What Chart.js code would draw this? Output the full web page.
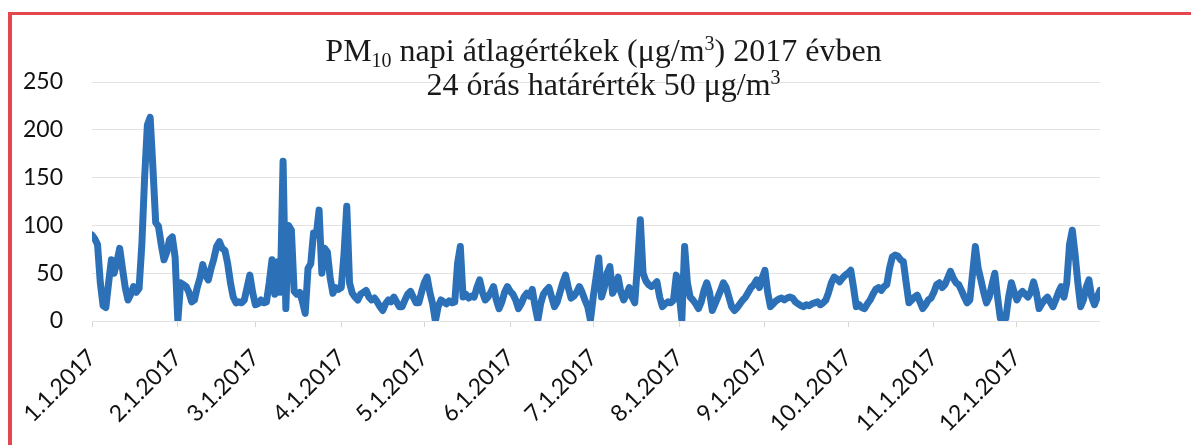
<!DOCTYPE html>
<html>
<head>
<meta charset="utf-8">
<script src="https://cdn.jsdelivr.net/npm/chart.js@4"></script>
<style>
  html, body { margin: 0; padding: 0; background: #fff; }
  #wrap { position: relative; width: 1191px; height: 445px; overflow: hidden; }
  #frame {
    position: absolute; left: 8px; top: 12px; right: -10px; bottom: -10px;
    border-left: 4px solid #e4474d; border-top: 3px solid #e4474d;
    pointer-events: none;
  }
</style>
</head>
<body>
<div id="wrap">
  <canvas id="pmChart" width="1191" height="445"></canvas>
  <div id="frame"></div>
</div>
<script>
// month tick labels and the day of year each month starts on
const monthLabels = ['1.1.2017', '2.1.2017', '3.1.2017', '4.1.2017', '5.1.2017', '6.1.2017',
                     '7.1.2017', '8.1.2017', '9.1.2017', '10.1.2017', '11.1.2017', '12.1.2017'];
const monthStarts = [0, 31, 59, 90, 120, 151, 181, 212, 243, 273, 304, 334];
const yTicks = [0, 50, 100, 150, 200, 250];

// daily PM10 averages (µg/m3)
const jan = [90, 86, 80, 40, 16, 14, 40, 64, 50, 62, 76, 55, 35, 22, 28, 36, 30, 34, 80, 150, 205, 213, 160, 103, 99, 80, 64, 72, 85, 88, 67];
const feb = [0, 40, 38, 36, 30, 20, 22, 35, 45, 59, 48, 43, 55, 65, 78, 83, 76, 74, 60, 40, 25, 19, 20, 19, 22, 35, 48, 30];
const mar = [17, 18, 22, 19, 20, 40, 64, 28, 62, 30, 167, 13, 100, 95, 31, 28, 30, 20, 8, 55, 60, 92, 90, 116, 50, 76, 72, 45, 29, 35, 33];
const apr = [35, 70, 120, 40, 29, 25, 22, 28, 30, 32, 25, 22, 24, 20, 15, 11, 18, 22, 20, 25, 20, 15, 15, 22, 28, 31, 25, 19, 19, 30];
const may = [40, 46, 30, 18, 0, 15, 22, 20, 18, 21, 19, 20, 60, 78, 25, 28, 24, 26, 25, 35, 43, 30, 22, 25, 30, 36, 22, 13, 20, 30, 36];
const jun = [31, 28, 22, 13, 18, 25, 29, 26, 33, 15, 1, 18, 28, 32, 35, 25, 15, 20, 30, 40, 48, 35, 24, 26, 30, 36, 30, 22, 15, 1];
const jul = [25, 45, 66, 25, 35, 50, 57, 29, 35, 46, 30, 22, 28, 35, 25, 19, 60, 106, 50, 42, 38, 36, 38, 41, 25, 15, 18, 20, 19, 22, 48];
const aug = [30, 1, 78, 40, 25, 22, 18, 13, 20, 32, 40, 30, 11, 18, 25, 32, 40, 35, 25, 15, 11, 14, 18, 22, 25, 30, 35, 38, 43, 35, 45];
const sep = [53, 30, 15, 18, 21, 23, 24, 22, 24, 25, 24, 20, 18, 16, 15, 17, 16, 18, 19, 20, 17, 19, 22, 30, 40, 46, 44, 41, 45, 48];
const oct = [50, 53, 35, 15, 17, 14, 13, 18, 22, 28, 33, 35, 32, 36, 38, 55, 67, 69, 68, 64, 62, 40, 19, 22, 25, 27, 20, 13, 17, 22, 24];
const nov = [30, 38, 40, 35, 38, 45, 52, 45, 40, 38, 32, 25, 19, 22, 50, 78, 55, 43, 30, 19, 25, 38, 50, 25, 3, 3, 3, 25, 40, 30];
const dec = [22, 28, 31, 28, 25, 30, 41, 30, 13, 18, 22, 25, 20, 15, 22, 30, 36, 25, 40, 80, 95, 70, 40, 15, 22, 35, 43, 25, 17, 25, 32];

// title pieces: [text, 'sub' | 'sup' | '']
const titleLine1 = [['PM', ''], ['10', 'sub'], [' napi átlagértékek (μg/m', ''], ['3', 'sup'], [') 2017 évben', '']];
const titleLine2 = [['24 órás határérték 50 μg/m', ''], ['3', 'sup']];

document.addEventListener('DOMContentLoaded', () => {
    const ctx = document.getElementById('pmChart').getContext('2d');

    const daily = [].concat(jan, feb, mar, apr, may, jun, jul, aug, sep, oct, nov, dec);
    const points = daily.map((v, i) => ({ x: i, y: v }));

    const titleFont = 'Liberation Serif';
    const titleSize = 32;

    function drawLine(c, parts, cx, baseline) {
        const small = Math.round(titleSize * 0.64);
        let total = 0;
        parts.forEach(([txt, kind]) => {
            c.font = (kind ? small : titleSize) + 'px "' + titleFont + '"';
            total += c.measureText(txt).width;
        });
        let x = cx - total / 2;
        parts.forEach(([txt, kind]) => {
            c.font = (kind ? small : titleSize) + 'px "' + titleFont + '"';
            let dy = 0;
            if (kind === 'sub') dy = titleSize * 0.2;
            if (kind === 'sup') dy = -titleSize * 0.34;
            c.fillText(txt, x, baseline + dy);
            x += c.measureText(txt).width;
        });
    }

    // title sits over the top of the plot, like the original
    const titlePlugin = {
        id: 'pmTitle',
        afterDraw(chart) {
            const c = chart.ctx;
            c.save();
            c.fillStyle = '#1a1a1a';
            c.textAlign = 'left';
            c.textBaseline = 'alphabetic';
            const cx = chart.width / 2 + 8;
            drawLine(c, titleLine1, cx, 61);
            drawLine(c, titleLine2, cx, 95);
            c.restore();
        }
    };

    new Chart(ctx, {
        type: 'line',
        data: {
            datasets: [{
                label: 'PM10',
                data: points,
                borderColor: '#2c71b8',
                borderWidth: 7,
                pointRadius: 0,
                tension: 0,
                borderJoinStyle: 'round',
                borderCapStyle: 'round',
                fill: false
            }]
        },
        options: {
            responsive: false,
            animation: false,
            layout: { padding: { top: 82, right: 91, left: 0, bottom: 0 } },
            plugins: {
                legend: { display: false },
                tooltip: { enabled: false },
                title: { display: false }
            },
            scales: {
                x: {
                    type: 'linear',
                    min: 0,
                    max: 364,
                    afterBuildTicks: axis => { axis.ticks = monthStarts.map(v => ({ value: v })); },
                    afterFit: scale => { scale.height = 124; },
                    ticks: {
                        autoSkip: false,
                        maxRotation: 45,
                        minRotation: 45,
                        padding: 17,
                        color: '#111',
                        font: { family: 'Lato', size: 23 },
                        callback: value => monthLabels[monthStarts.indexOf(value)]
                    },
                    grid: { drawOnChartArea: false, drawTicks: true, tickLength: 6, color: '#d6d6d6' },
                    border: { display: false }
                },
                y: {
                    min: 0,
                    max: 250,
                    afterBuildTicks: axis => { axis.ticks = yTicks.map(v => ({ value: v })); },
                    afterFit: scale => { scale.width = 92; },
                    ticks: {
                        padding: 29,
                        color: '#111',
                        font: { family: 'Lato', size: 23 }
                    },
                    grid: { color: '#e3e3e3', drawTicks: false },
                    border: { display: false }
                }
            }
        },
        plugins: [titlePlugin]
    });
});
</script>
</body>
</html>
